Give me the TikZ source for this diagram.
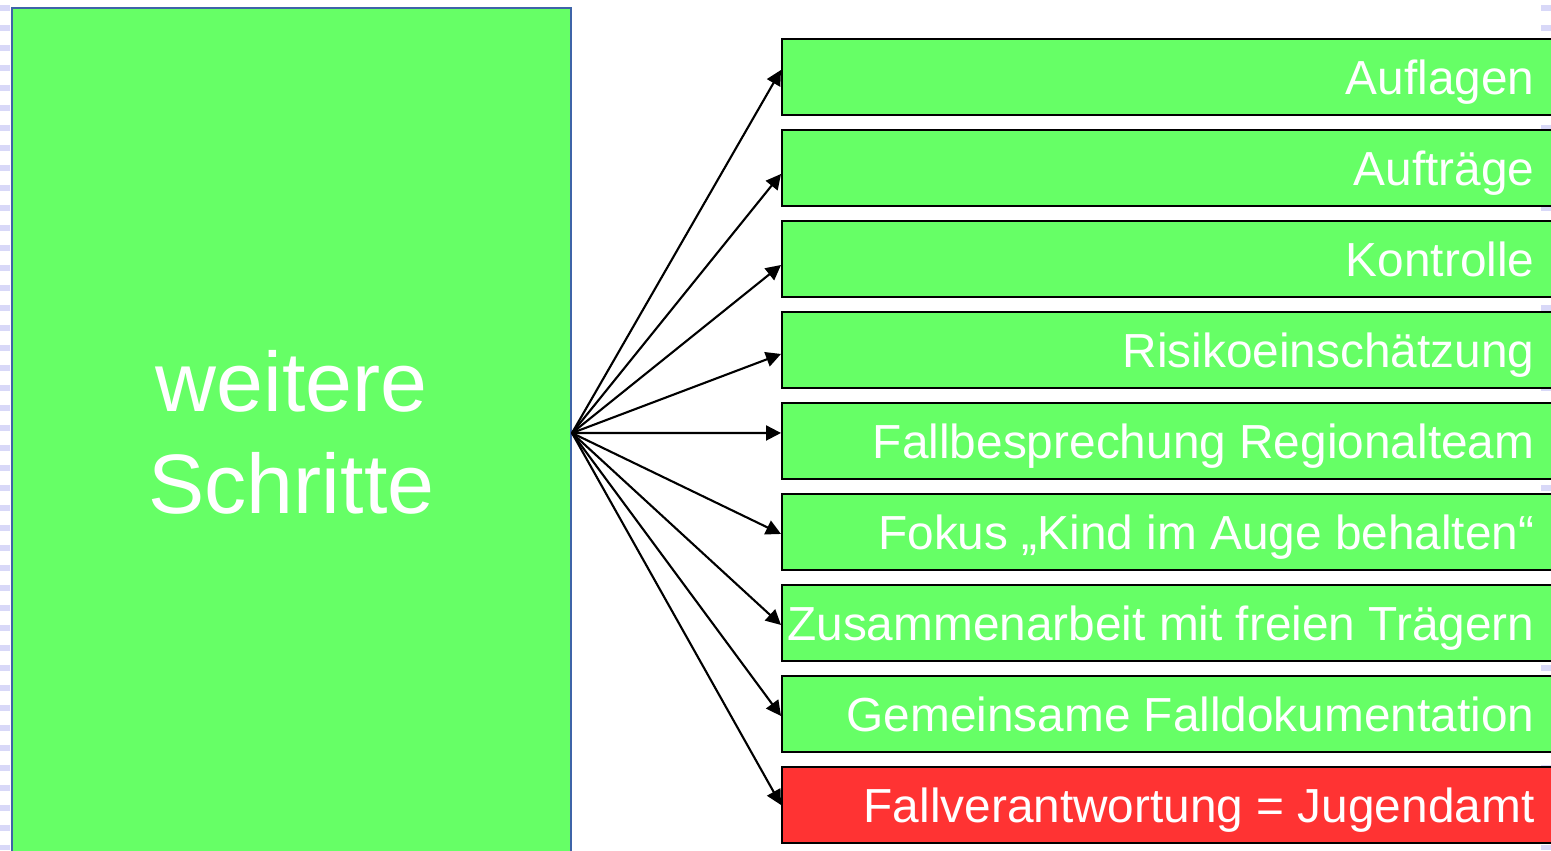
\documentclass[tikz,border=0pt]{standalone}
\usepackage{fontspec}
\setmainfont{Liberation Sans}
\usetikzlibrary{arrows.meta}
\definecolor{boxgreen}{HTML}{66FF66}
\definecolor{boxred}{HTML}{FF3333}
\definecolor{edgeblue}{HTML}{3E64A8}
\definecolor{stripe}{HTML}{D8D8F8}
\tikzset{
  stepsbox/.style={draw=edgeblue, line width=1.2pt, fill=boxgreen,
    minimum width=11.18cm, minimum height=17cm, inner sep=0pt},
  itembox/.style={draw=black, line width=1.1pt, minimum width=15.6cm,
    minimum height=1.52cm, anchor=north west, inner sep=0pt},
  itemlabel/.style={text=white, font=\fontsize{27.2}{30}\selectfont,
    inner sep=0pt, anchor=base east},
  fan/.style={line width=1.2pt, -{Triangle[length=0.3cm,width=0.3cm]}},
  edgestripe/.style={stripe, line width=0.2cm, dash pattern=on 0.12cm off 0.28cm, dash phase=-0.1cm},
}
\begin{document}
\begin{tikzpicture}[x=0.02cm,y=-0.02cm]
\useasboundingbox (0,0) rectangle (1551,850);
\fill[white] (0,0) rectangle (1551,850);
%
\draw[edgestripe] (5,0) -- (5,850);
\draw[edgestripe] (1546,0) -- (1546,850);
%
\node[stepsbox] (steps) at (291.5,433) {};
\node[text=white, font=\fontsize{48}{57.5}\selectfont, align=center, anchor=base,
  inner sep=0pt] (stepslabel) at (291.5,513) {weitere\\Schritte};
%
\foreach \txt/\col/\dy [count=\i] in {Auflagen/boxgreen/-7, Auftr\"age/boxgreen/6,
    Kontrolle/boxgreen/6, Risikoeinsch\"atzung/boxgreen/4,
    Fallbesprechung Regionalteam/boxgreen/-8,
    Fokus „Kind im Auge behalten“/boxgreen/2,
    Zusammenarbeit mit freien Tr\"agern/boxgreen/2,
    Gemeinsame Falldokumentation/boxgreen/2,
    Fallverantwortung = Jugendamt/boxred/0}{
  \node[itembox, fill=\col] (item\i) at (781,{38+91*(\i-1)}) {};
  \node[itemlabel] (label\i) at ([xshift=-0.56cm,yshift=-0.35cm]item\i.east) {\txt};
  \draw[fan] (steps.east) -- ([yshift=-\dy*0.02cm]item\i.west);
}
\end{tikzpicture}
\end{document}
